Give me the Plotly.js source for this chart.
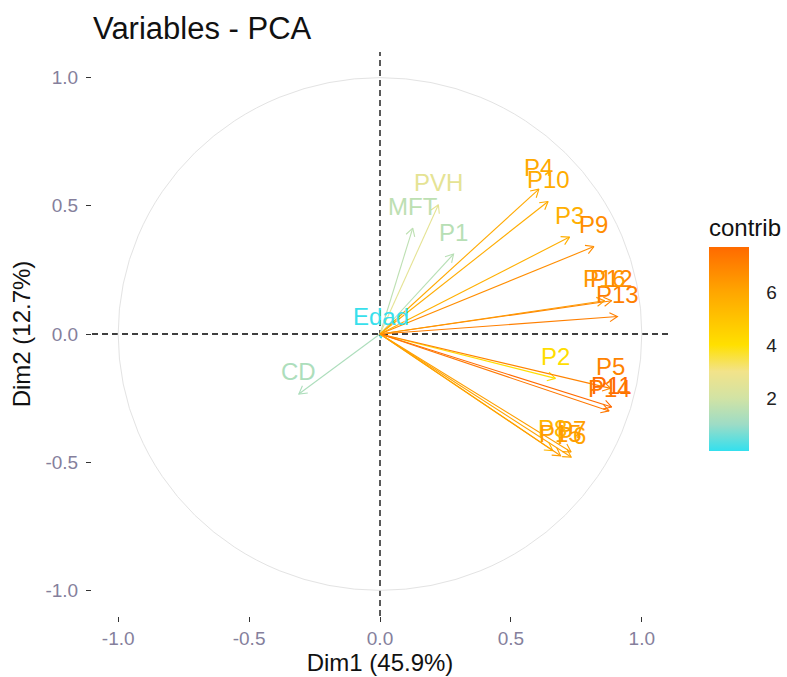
<!DOCTYPE html>
<html><head><meta charset="utf-8">
<script src="https://cdn.plot.ly/plotly-3.0.1.min.js"></script>
<style>html,body{margin:0;padding:0;background:#fff}#chart{width:787px;height:677px}</style>
</head><body><div id="chart"></div>
<script>
// ---- data ----
const variables = ["Edad","CD","MFT","PVH","P1","P2","P3","P4","P5","P6","P7","P8","P9","P10","P11","P12","P13","P14","P15","P16"];
const dim1 = [0.005,-0.310,0.125,0.223,0.281,0.670,0.724,0.607,0.881,0.730,0.730,0.660,0.817,0.642,0.885,0.885,0.907,0.875,0.690,0.858];
const dim2 = [-0.016,-0.234,0.413,0.504,0.312,-0.173,0.378,0.565,-0.212,-0.480,-0.460,-0.455,0.341,0.517,-0.285,0.130,0.068,-0.300,-0.475,0.130];
const contrib = [0.05,1.3,1.6,2.6,1.5,4.1,5.7,5.9,7.0,6.1,6.2,5.5,6.7,5.8,7.7,6.9,7.1,7.3,6.3,6.4];
const axisTicks = [-1,-0.5,0,0.5,1];
const axisTickLabels = ["-1.0","-0.5","0.0","0.5","1.0"];
const contribTicks = [2,4,6];
const contribRange = [0,7.7];
const titleText = "Variables - PCA";
const xTitle = "Dim1 (45.9%)";
const yTitle = "Dim2 (12.7%)";
const legendTitle = "contrib";

// ---- styling ----
const FONT = "Liberation Sans, Arial, sans-serif";
const colorscale = [
  [0.00,"#33E0EE"],[0.13,"#9DDCC6"],[0.26,"#D2E3A4"],[0.39,"#F2E38A"],
  [0.52,"#FFE000"],[0.78,"#FFA600"],[1.00,"#FF6A00"]
];
function hex2rgb(h){return [parseInt(h.slice(1,3),16),parseInt(h.slice(3,5),16),parseInt(h.slice(5,7),16)];}
function colorFor(v){
  let t=(v-contribRange[0])/(contribRange[1]-contribRange[0]); t=Math.max(0,Math.min(1,t));
  for(let i=1;i<colorscale.length;i++){
    if(t<=colorscale[i][0]){
      const [t0,c0]=colorscale[i-1],[t1,c1]=colorscale[i];
      const f=(t-t0)/(t1-t0), a=hex2rgb(c0), b=hex2rgb(c1);
      return "rgb("+a.map((x,k)=>Math.round(x+(b[k]-x)*f)).join(",")+")";
    }
  }
  return colorscale[colorscale.length-1][1];
}

const W=787,H=677, mL=92, mR=119, mT=52, mB=61;
const xr=[-1.1,1.1], yr=[-1.1,1.1];
const sx=(W-mL-mR)/(xr[1]-xr[0]), sy=(H-mT-mB)/(yr[1]-yr[0]);

const traces=[];
variables.forEach((name,i)=>{
  const x=dim1[i], y=dim2[i];
  const dx=x*sx, dy=y*sy, L=Math.hypot(dx,dy);
  const xs=[0,x], ys=[0,y];
  if(L>0.5){
    const ux=dx/L, uy=dy/L, hl=Math.min(9,L*0.6), a=Math.PI/6;
    const pts=[1,-1].map(s=>{
      const c=Math.cos(s*a), sn=Math.sin(s*a);
      const rx=ux*c-uy*sn, ry=ux*sn+uy*c;
      return [x-hl*rx/sx, y-hl*ry/sy];
    });
    xs.push(null,pts[0][0],x,pts[1][0]);
    ys.push(null,pts[0][1],y,pts[1][1]);
  }
  traces.push({type:"scatter",mode:"lines",x:xs,y:ys,
    line:{color:colorFor(contrib[i]),width:1.1},hoverinfo:"skip",showlegend:false});
});
// colour bar carrier
traces.push({type:"scatter",mode:"markers",x:dim1,y:dim2,hoverinfo:"skip",showlegend:false,
  marker:{size:0,opacity:0,color:contrib,colorscale:colorscale,cmin:contribRange[0],cmax:contribRange[1],
    showscale:true,
    colorbar:{title:{text:legendTitle,side:"top",font:{family:FONT,size:24,color:"#111"}},
      x:(709-mL)/(W-mL-mR),xanchor:"left",y:(H-mB-333)/(H-mT-mB),yanchor:"middle",
      lenmode:"pixels",len:236,thickness:40,thicknessmode:"pixels",xpad:0,ypad:0,
      outlinewidth:0,tickvals:contribTicks,ticktext:contribTicks.map(String),
      ticks:"outside",ticklen:14,tickcolor:"#fff",tickwidth:1,
      tickfont:{family:FONT,size:19,color:"#222"}}}});

const annotations=variables.map((name,i)=>({x:dim1[i],y:dim2[i],xref:"x",yref:"y",text:name,
  showarrow:false,xanchor:"center",yanchor:"middle",yshift:22,
  font:{family:FONT,size:24,color:colorFor(contrib[i])}}));

const layout={
  width:W,height:H,margin:{l:mL,r:mR,t:mT,b:mB,autoexpand:false},
  paper_bgcolor:"#fff",plot_bgcolor:"#fff",
  title:{text:titleText,x:93/W,xref:"container",xanchor:"left",y:1-28/H,yref:"container",yanchor:"middle",
    font:{family:FONT,size:31,color:"#111"}},
  xaxis:{range:xr,tickvals:axisTicks,ticktext:axisTickLabels,showgrid:false,zeroline:false,showline:false,
    ticks:"outside",ticklen:5,tickcolor:"#333",tickwidth:1,automargin:false,
    tickfont:{family:FONT,size:19,color:"#857f9c"},
    title:{text:xTitle,font:{family:FONT,size:24,color:"#111"},standoff:6}},
  yaxis:{range:yr,tickvals:axisTicks,ticktext:axisTickLabels,showgrid:false,zeroline:false,showline:false,
    ticks:"outside",ticklen:5,tickcolor:"#333",tickwidth:1,ticklabelstandoff:4,automargin:false,
    tickfont:{family:FONT,size:19,color:"#857f9c"},
    title:{text:yTitle,font:{family:FONT,size:24,color:"#111"},standoff:8}},
  shapes:[
    {type:"circle",xref:"x",yref:"y",x0:-1,x1:1,y0:-1,y1:1,line:{color:"#E3E3E3",width:1},layer:"below"},
    {type:"line",xref:"paper",yref:"y",x0:0,x1:1,y0:0,y1:0,line:{color:"#000",width:1.3,dash:"6px,4px"},layer:"below"},
    {type:"line",xref:"x",yref:"paper",x0:0,x1:0,y0:0,y1:1,line:{color:"#000",width:1.3,dash:"6px,4px"},layer:"below"}
  ],
  annotations:annotations,
  showlegend:false
};
Plotly.newPlot("chart",traces,layout,{displayModeBar:false,staticPlot:true});
</script></body></html>
